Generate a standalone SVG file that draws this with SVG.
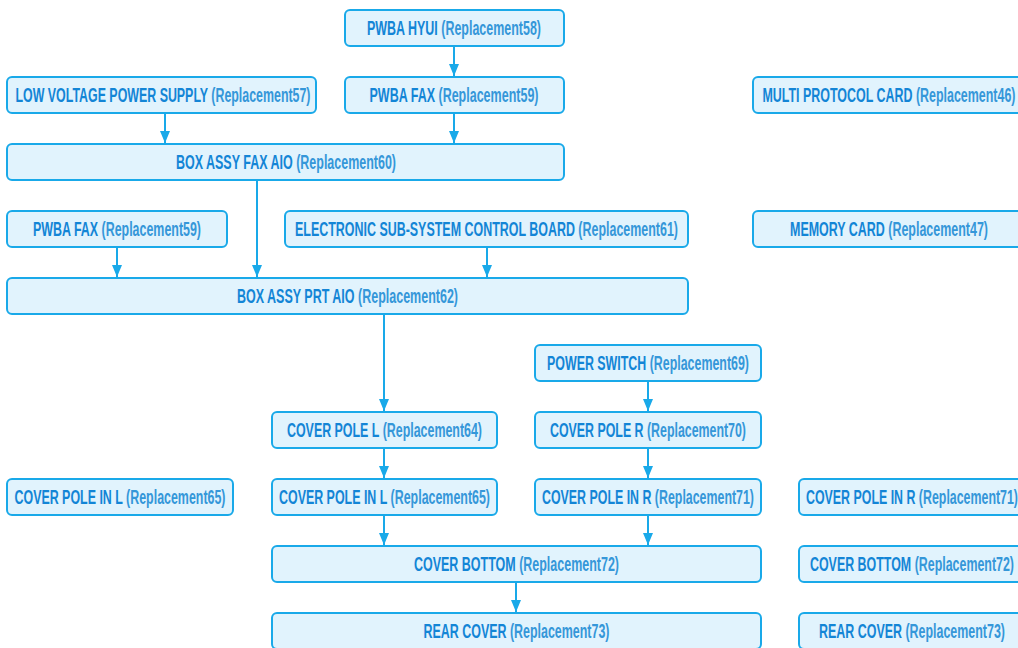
<svg xmlns="http://www.w3.org/2000/svg" width="1018" height="648" viewBox="0 0 1018 648">
<style>
.n rect{fill:#e1f3fd;stroke:#19a9e9;stroke-width:2}
.n text{font-family:"Liberation Sans",Arial,sans-serif;font-weight:bold;font-size:20px;fill:#1385d6;text-anchor:middle}
.n tspan.r{fill:#3597d9}
.c line{stroke:#19a9e9;stroke-width:2;marker-end:url(#a)}
</style>
<defs>
<marker id="a" markerWidth="12" markerHeight="10" refX="12" refY="5" orient="auto" markerUnits="userSpaceOnUse">
<path d="M0,0 L12,5 L0,10 Z" fill="#19a9e9"/>
</marker>
</defs>
<rect width="1018" height="648" fill="#fff"/>
<g class="c">
<line x1="454" y1="46" x2="454" y2="76"/>
<line x1="165" y1="113" x2="165" y2="143"/>
<line x1="454" y1="113" x2="454" y2="143"/>
<line x1="257" y1="180" x2="257" y2="277"/>
<line x1="117" y1="247" x2="117" y2="277"/>
<line x1="487" y1="247" x2="487" y2="277"/>
<line x1="384" y1="314" x2="384" y2="411"/>
<line x1="648" y1="381" x2="648" y2="411"/>
<line x1="384" y1="448" x2="384" y2="478"/>
<line x1="648" y1="448" x2="648" y2="478"/>
<line x1="384" y1="515" x2="384" y2="545"/>
<line x1="648" y1="515" x2="648" y2="545"/>
<line x1="516" y1="582" x2="516" y2="612"/>
</g>
<g id="n58" class="n"><rect x="345" y="10" width="219" height="36" rx="5"/><text x="454" y="35" textLength="174" lengthAdjust="spacingAndGlyphs">PWBA HYUI <tspan class="r">(Replacement58)</tspan></text></g>
<g id="n57" class="n"><rect x="7" y="77" width="309" height="36" rx="5"/><text x="163" y="102" textLength="295" lengthAdjust="spacingAndGlyphs">LOW VOLTAGE POWER SUPPLY <tspan class="r">(Replacement57)</tspan></text></g>
<g id="n59a" class="n"><rect x="345" y="77" width="219" height="36" rx="5"/><text x="454" y="102" textLength="169" lengthAdjust="spacingAndGlyphs">PWBA FAX <tspan class="r">(Replacement59)</tspan></text></g>
<g id="n46" class="n"><rect x="753" y="77" width="272" height="36" rx="5"/><text x="889" y="102" textLength="253" lengthAdjust="spacingAndGlyphs">MULTI PROTOCOL CARD <tspan class="r">(Replacement46)</tspan></text></g>
<g id="n60" class="n"><rect x="7" y="144" width="557" height="36" rx="5"/><text x="286" y="169" textLength="220" lengthAdjust="spacingAndGlyphs">BOX ASSY FAX AIO <tspan class="r">(Replacement60)</tspan></text></g>
<g id="n59b" class="n"><rect x="7" y="211" width="220" height="36" rx="5"/><text x="117" y="236" textLength="168" lengthAdjust="spacingAndGlyphs">PWBA FAX <tspan class="r">(Replacement59)</tspan></text></g>
<g id="n61" class="n"><rect x="285" y="211" width="403" height="36" rx="5"/><text x="486.5" y="236" textLength="383" lengthAdjust="spacingAndGlyphs">ELECTRONIC SUB-SYSTEM CONTROL BOARD <tspan class="r">(Replacement61)</tspan></text></g>
<g id="n47" class="n"><rect x="753" y="211" width="272" height="36" rx="5"/><text x="889" y="236" textLength="198" lengthAdjust="spacingAndGlyphs">MEMORY CARD <tspan class="r">(Replacement47)</tspan></text></g>
<g id="n62" class="n"><rect x="7" y="278" width="681" height="36" rx="5"/><text x="347.5" y="303" textLength="221" lengthAdjust="spacingAndGlyphs">BOX ASSY PRT AIO <tspan class="r">(Replacement62)</tspan></text></g>
<g id="n69" class="n"><rect x="535" y="345" width="226" height="36" rx="5"/><text x="648" y="370" textLength="202" lengthAdjust="spacingAndGlyphs">POWER SWITCH <tspan class="r">(Replacement69)</tspan></text></g>
<g id="n64" class="n"><rect x="272" y="412" width="225" height="36" rx="5"/><text x="384.5" y="437" textLength="195" lengthAdjust="spacingAndGlyphs">COVER POLE L <tspan class="r">(Replacement64)</tspan></text></g>
<g id="n70" class="n"><rect x="535" y="412" width="226" height="36" rx="5"/><text x="648" y="437" textLength="196" lengthAdjust="spacingAndGlyphs">COVER POLE R <tspan class="r">(Replacement70)</tspan></text></g>
<g id="n65a" class="n"><rect x="7" y="479" width="226" height="36" rx="5"/><text x="120" y="504" textLength="211" lengthAdjust="spacingAndGlyphs">COVER POLE IN L <tspan class="r">(Replacement65)</tspan></text></g>
<g id="n65b" class="n"><rect x="272" y="479" width="225" height="36" rx="5"/><text x="384.5" y="504" textLength="211" lengthAdjust="spacingAndGlyphs">COVER POLE IN L <tspan class="r">(Replacement65)</tspan></text></g>
<g id="n71a" class="n"><rect x="535" y="479" width="226" height="36" rx="5"/><text x="648" y="504" textLength="212" lengthAdjust="spacingAndGlyphs">COVER POLE IN R <tspan class="r">(Replacement71)</tspan></text></g>
<g id="n71b" class="n"><rect x="799" y="479" width="226" height="36" rx="5"/><text x="912" y="504" textLength="212" lengthAdjust="spacingAndGlyphs">COVER POLE IN R <tspan class="r">(Replacement71)</tspan></text></g>
<g id="n72a" class="n"><rect x="272" y="546" width="489" height="36" rx="5"/><text x="516.5" y="571" textLength="205" lengthAdjust="spacingAndGlyphs">COVER BOTTOM <tspan class="r">(Replacement72)</tspan></text></g>
<g id="n72b" class="n"><rect x="799" y="546" width="226" height="36" rx="5"/><text x="912" y="571" textLength="204" lengthAdjust="spacingAndGlyphs">COVER BOTTOM <tspan class="r">(Replacement72)</tspan></text></g>
<g id="n73a" class="n"><rect x="272" y="613" width="489" height="36" rx="5"/><text x="516.5" y="638" textLength="186" lengthAdjust="spacingAndGlyphs">REAR COVER <tspan class="r">(Replacement73)</tspan></text></g>
<g id="n73b" class="n"><rect x="799" y="613" width="226" height="36" rx="5"/><text x="912" y="638" textLength="186" lengthAdjust="spacingAndGlyphs">REAR COVER <tspan class="r">(Replacement73)</tspan></text></g>
</svg>
